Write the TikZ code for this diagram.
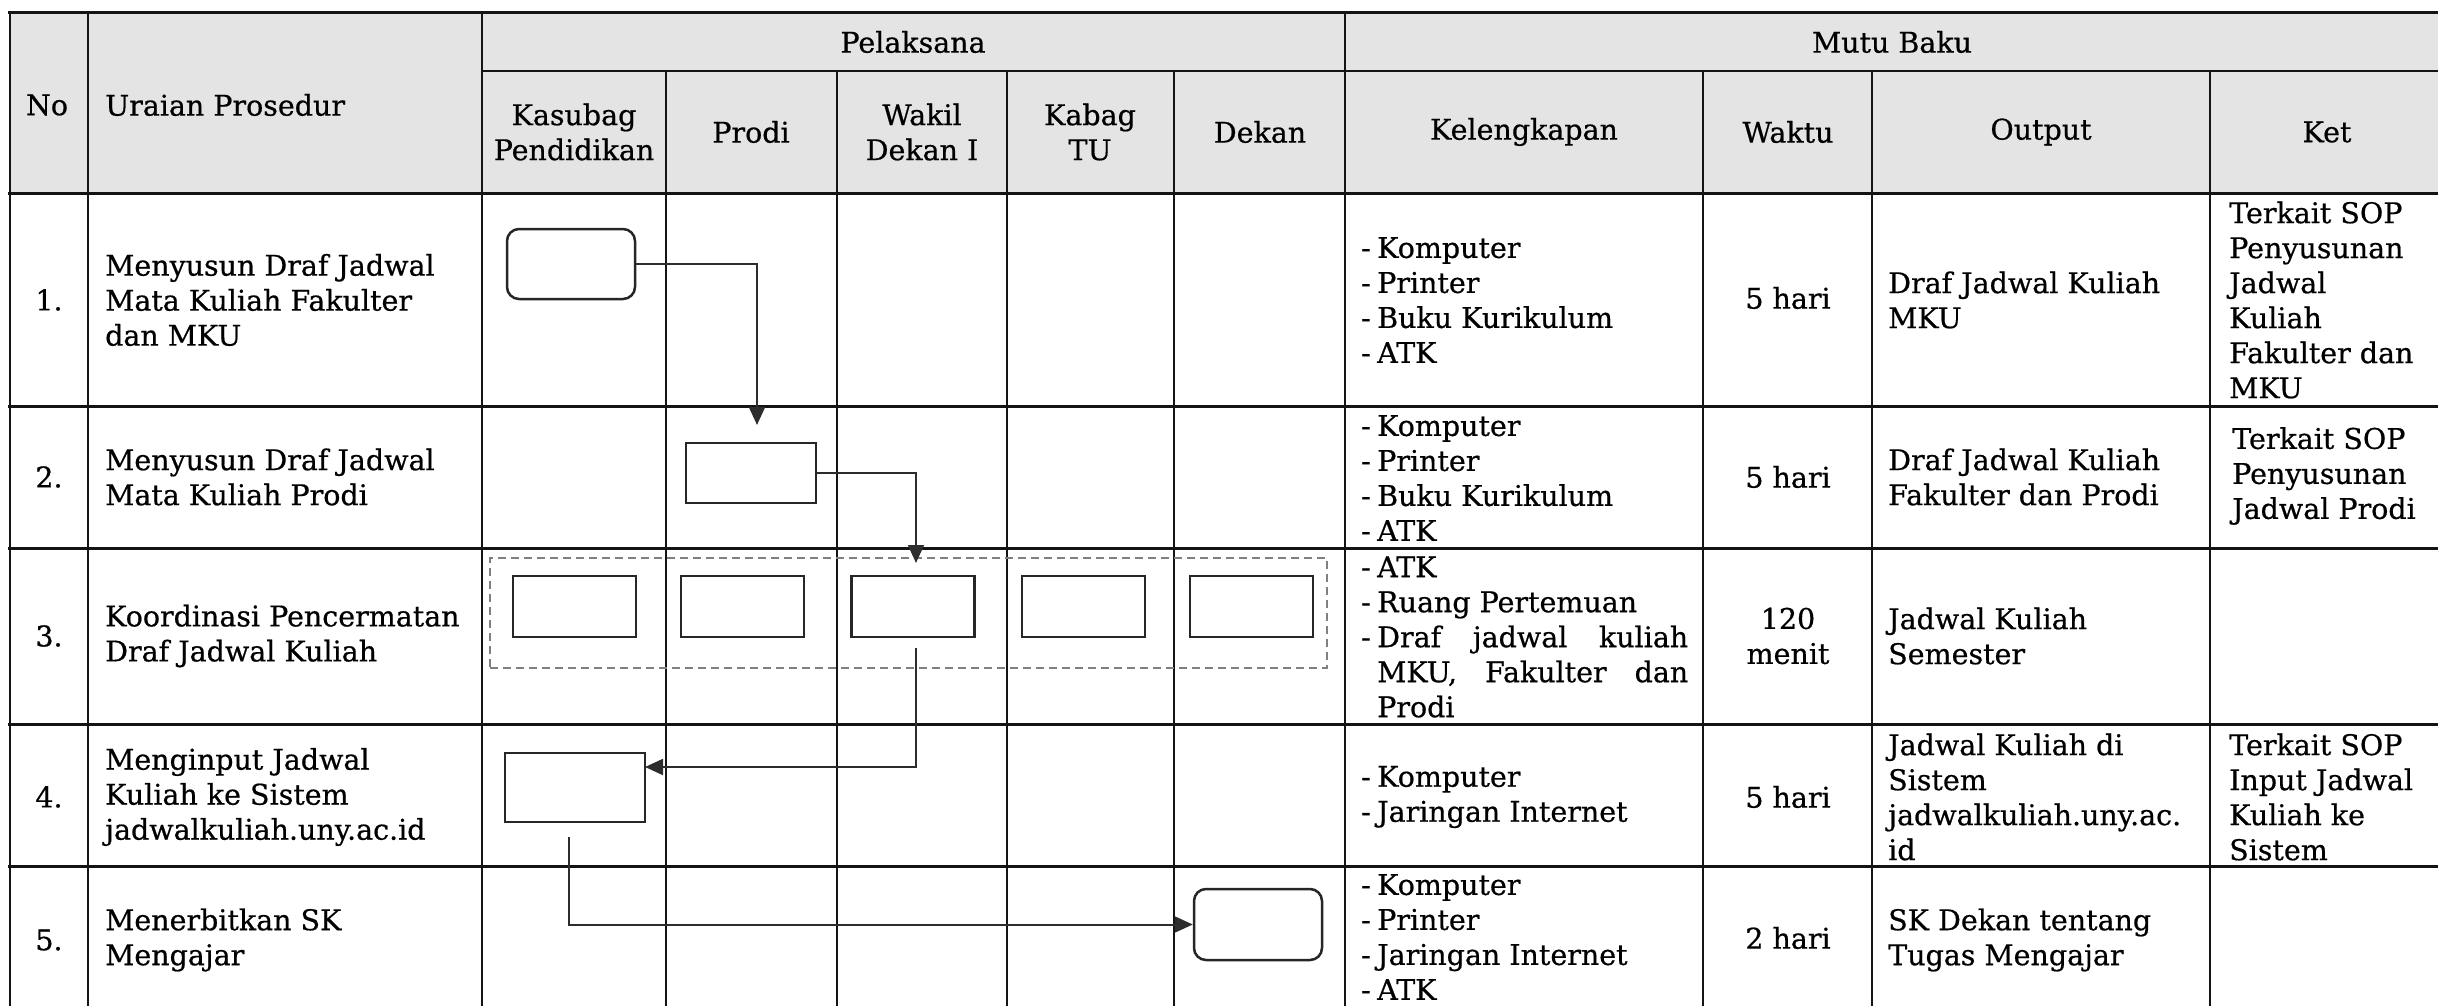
\documentclass[tikz,border=0pt]{standalone}
\usepackage{fontspec}
\setmainfont{DejaVu Serif}[FakeBold=0.6]
\usetikzlibrary{arrows.meta,calc}
\definecolor{hdr}{RGB}{228,228,228}
\definecolor{connc}{RGB}{45,45,45}
\definecolor{gridc}{RGB}{20,20,20}
\newcommand\di[1]{\makebox[16pt][l]{-}#1}
\begin{document}
\begin{tikzpicture}[x=1pt,y=-1pt,
  txt/.style={inner sep=0pt, font=\fontsize{28.5}{35}\selectfont, align=left},
  ctxt/.style={txt, align=center},
  gridline/.style={line width=2pt, draw=gridc},
  rowline/.style={line width=3pt, draw=gridc},
  flowbox/.style={draw=black!85, line width=2.5pt, inner sep=0pt, rectangle},
  rflowbox/.style={flowbox, rounded corners=12pt},
  groupbox/.style={draw=black!50, line width=2.5pt, dash pattern=on 8pt off 5pt, inner sep=0pt, rectangle},
  connector/.style={draw=connc, line width=2pt, -{Triangle[length=18pt,width=16pt]}}
]
\useasboundingbox (0,0) rectangle (2438,1006);
\clip (0,0) rectangle (2438,1006);
% header background
\fill[hdr] (10,13) rectangle (2445,193);
% grid
\foreach \x in {10,88,482,1345} \draw[gridline] (\x,13) -- (\x,1012);
\foreach \x in {666,837,1007,1174,1703,1872,2210} \draw[gridline] (\x,71) -- (\x,1012);
\draw[rowline] (8,13) -- (2445,13);
\draw[gridline] (482,71) -- (2445,71);
\foreach \y in {193,406,548,724,866} \draw[rowline] (8,\y) -- (2445,\y);

% header texts
\node[ctxt] (hNo) at (47,105) {No};
\node[txt, anchor=west] (hUr) at (105,105) {Uraian Prosedur};
\node[ctxt] (hPel) at (913,42) {Pelaksana};
\node[ctxt] (hMutu) at (1892,42) {Mutu Baku};
\node[ctxt] (hKas) at (574,132) {Kasubag\\Pendidikan};
\node[ctxt] (hPro) at (751,132) {Prodi};
\node[ctxt] (hWak) at (922,132) {Wakil\\Dekan I};
\node[ctxt] (hKab) at (1090,132) {Kabag\\TU};
\node[ctxt] (hDek) at (1260,132) {Dekan};
\node[ctxt] (hKel) at (1524,132) {Kelengkapan};
\node[ctxt] (hWkt) at (1788,132) {Waktu};
\node[ctxt] (hOut) at (2041,132) {Output};
\node[ctxt] (hKet) at (2327,132) {Ket};

% flow shapes
\node[groupbox, minimum width=837pt, minimum height=110pt] (grp) at (908.5,613) {};
\node[rflowbox, minimum width=128pt, minimum height=70pt] (b1) at (571,264) {};
\node[flowbox, minimum width=130pt, minimum height=60pt] (b2) at (751,473) {};
\node[flowbox, minimum width=123pt, minimum height=61pt] (b3a) at (574.5,606.5) {};
\node[flowbox, minimum width=123pt, minimum height=61pt] (b3b) at (742.5,606.5) {};
\node[flowbox, minimum width=123pt, minimum height=61pt] (b3c) at (913,606.5) {};
\node[flowbox, minimum width=123pt, minimum height=61pt] (b3d) at (1083.5,606.5) {};
\node[flowbox, minimum width=123pt, minimum height=61pt] (b3e) at (1251.5,606.5) {};
\node[flowbox, minimum width=140pt, minimum height=69pt] (b4) at (575,787.5) {};
\node[rflowbox, minimum width=128pt, minimum height=71pt] (b5) at (1258,924.5) {};

% connectors
\coordinate (t1) at (757,425);
\coordinate (t2) at (916,563);
\coordinate (s3) at (916,648);
\coordinate (t3) at (645,767);
\coordinate (s4) at (569,837);
\draw[connector] (b1.east) -| (t1);
\draw[connector] (b2.east) -| (t2);
\draw[connector] (s3) |- (t3);
\draw[connector] (s4) |- (b5.west);

% row 1
\node[ctxt] (n1) at (49,300) {1.};
\node[txt, anchor=west] (u1) at (105,300) {Menyusun Draf Jadwal\\Mata Kuliah Fakulter\\dan MKU};
\node[txt, anchor=west] (k1) at (1361,300) {\di{Komputer}\\\di{Printer}\\\di{Buku Kurikulum}\\\di{ATK}};
\node[ctxt] (w1) at (1788,298) {5 hari};
\node[txt, anchor=west] (o1) at (1888,300) {Draf Jadwal Kuliah\\MKU};
\node[txt, anchor=west] (e1) at (2229,300) {Terkait SOP\\Penyusunan\\Jadwal\\Kuliah\\Fakulter dan\\MKU};

% row 2
\node[ctxt] (n2) at (49,477) {2.};
\node[txt, anchor=west] (u2) at (105,477) {Menyusun Draf Jadwal\\Mata Kuliah Prodi};
\node[txt, anchor=west] (k2) at (1361,478) {\di{Komputer}\\\di{Printer}\\\di{Buku Kurikulum}\\\di{ATK}};
\node[ctxt] (w2) at (1788,477) {5 hari};
\node[txt, anchor=west] (o2) at (1888,477) {Draf Jadwal Kuliah\\Fakulter dan Prodi};
\node[txt, anchor=west] (e2) at (2232,476) {Terkait SOP\\Penyusunan\\Jadwal Prodi};

% row 3
\node[ctxt] (n3) at (49,636) {3.};
\node[txt, anchor=west] (u3) at (105,636) {Koordinasi Pencermatan\\Draf Jadwal Kuliah};
\node[txt, anchor=west] (k3) at (1361,637) {\di{ATK}\\\di{Ruang Pertemuan}\\\di{\makebox[311pt][s]{Draf jadwal kuliah}}\\\hspace*{16pt}\makebox[311pt][s]{MKU, Fakulter dan}\\\hspace*{16pt}Prodi};
\node[ctxt] (w3) at (1788,636) {120\\menit};
\node[txt, anchor=west] (o3) at (1888,636) {Jadwal Kuliah\\Semester};

% row 4
\node[ctxt] (n4) at (49,797) {4.};
\node[txt, anchor=west] (u4) at (105,797) {Menginput Jadwal\\Kuliah ke Sistem\\jadwalkuliah.uny.ac.id};
\node[txt, anchor=west] (k4) at (1361,797) {\di{Komputer}\\\di{Jaringan Internet}};
\node[ctxt] (w4) at (1788,797) {5 hari};
\node[txt, anchor=west] (o4) at (1888,797) {Jadwal Kuliah di\\Sistem\\jadwalkuliah.uny.ac.\\id};
\node[txt, anchor=west] (e4) at (2229,797) {Terkait SOP\\Input Jadwal\\Kuliah ke\\Sistem};

% row 5
\node[ctxt] (n5) at (49,940) {5.};
\node[txt, anchor=west] (u5) at (105,940) {Menerbitkan SK\\Mengajar};
\node[txt, anchor=west] (k5) at (1361,937) {\di{Komputer}\\\di{Printer}\\\di{Jaringan Internet}\\\di{ATK}};
\node[ctxt] (w5) at (1788,938) {2 hari};
\node[txt, anchor=west] (o5) at (1888,940) {SK Dekan tentang\\Tugas Mengajar};
\end{tikzpicture}
\end{document}
